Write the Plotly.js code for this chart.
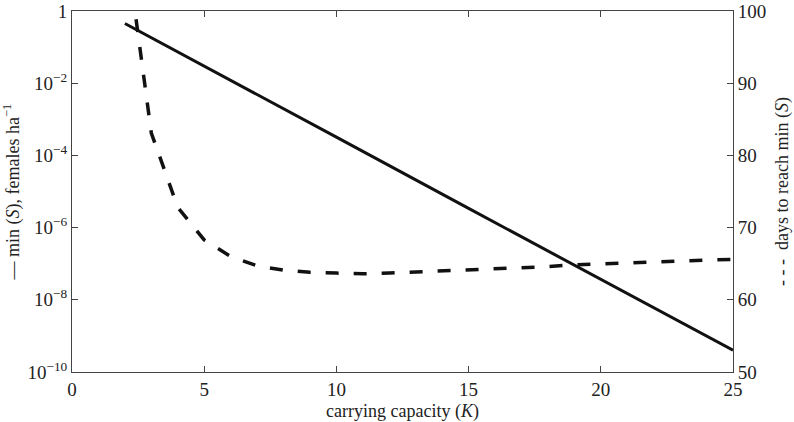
<!DOCTYPE html>
<html>
<head>
<meta charset="utf-8">
<script src="https://cdn.plot.ly/plotly-3.0.1.min.js"></script>
<style>
  html, body {margin: 0; padding: 0; background: #fff;}
  #chart {width: 794px; height: 422px;}
</style>
</head>
<body>
<div id="chart"></div>
<script>
// min(S) against carrying capacity, log scale (left axis)
const kMin = [2, 5, 10, 15, 20, 25];
const minS = [0.45, 0.030, 3.2e-4, 3.4e-6, 3.7e-8, 4.0e-10];

// days to reach min(S) (right axis)
const kDays = [2, 3, 4, 5, 6, 7, 8, 9, 10, 11, 12, 13, 14, 15, 16, 17, 18, 19, 20, 21, 22, 23, 24, 25];
const days = [110.4, 83.1, 72.8, 68.3, 66.0, 64.7, 64.1, 63.8, 63.7, 63.6, 63.7, 63.85, 63.95, 64.1, 64.2, 64.4, 64.6, 64.85, 65.0, 65.15, 65.25, 65.35, 65.5, 65.6];

const logTicks = [1e-10, 1e-8, 1e-6, 1e-4, 1e-2, 1];
const logTickText = ['10<sup>−10</sup>', '10<sup>−8</sup>', '10<sup>−6</sup>', '10<sup>−4</sup>', '10<sup>−2</sup>', '1'];
const dayTicks = [50, 60, 70, 80, 90, 100];
const kTicks = [0, 5, 10, 15, 20, 25];

const serif = "'Liberation Serif', 'Times New Roman', serif";
const axisCol = '#444';
const tickFont = {family: serif, size: 19, color: '#222'};

const traces = [
    {x: kMin, y: minS, type: 'scatter', mode: 'lines', yaxis: 'y',
     line: {color: '#111', width: 3}, name: 'min(S)'},
    {x: kDays, y: days, type: 'scatter', mode: 'lines', yaxis: 'y2',
     line: {color: '#111', width: 3.5, dash: '13px,15px'}, name: 'days'}
];

const layout = {
    width: 794,
    height: 422,
    margin: {l: 72, r: 61, t: 11, b: 50},
    paper_bgcolor: '#fff',
    plot_bgcolor: '#fff',
    showlegend: false,
    font: {family: serif, size: 18, color: '#222'},
    xaxis: {
        range: [0, 25],
        tickvals: kTicks,
        tickfont: tickFont,
        ticks: 'inside',
        ticklen: 6,
        tickcolor: axisCol,
        showline: true,
        linecolor: axisCol,
        linewidth: 1,
        mirror: 'ticks',
        showgrid: false,
        zeroline: false,
        title: {text: 'carrying capacity (<i>K</i>)', standoff: 5, font: {family: serif, size: 18}}
    },
    yaxis: {
        type: 'log',
        range: [-10, 0],
        tickvals: logTicks,
        ticktext: logTickText,
        tickfont: tickFont,
        ticks: 'inside',
        ticklen: 6,
        tickcolor: axisCol,
        showline: true,
        linecolor: axisCol,
        linewidth: 1,
        showgrid: false,
        zeroline: false,
        title: {text: '— min (<i>S</i>), females ha<sup>−1</sup>', standoff: 4, font: {family: serif, size: 18}}
    },
    yaxis2: {
        overlaying: 'y',
        side: 'right',
        range: [50, 100],
        tickvals: dayTicks,
        tickfont: tickFont,
        ticks: 'inside',
        ticklen: 6,
        tickcolor: axisCol,
        showline: true,
        linecolor: axisCol,
        linewidth: 1,
        showgrid: false,
        zeroline: false,
        title: {text: '- - -  days to reach min (<i>S</i>)', standoff: 10, font: {family: serif, size: 18}}
    }
};

Plotly.newPlot('chart', traces, layout, {displayModeBar: false, staticPlot: true});
</script>
</body>
</html>
